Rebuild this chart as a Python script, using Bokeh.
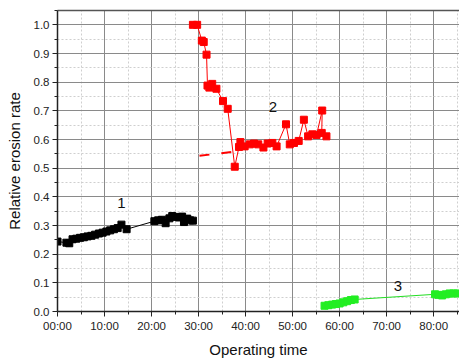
from bokeh.plotting import figure
from bokeh.models import FixedTicker, LinearAxis, Range1d, Label
from bokeh.embed import file_html
from bokeh.resources import INLINE

# ---- data (hours, relative erosion rate) ----
x1 = [0.0, 1.9, 2.5, 3.2, 4.0, 4.8, 5.6, 6.4, 7.2, 8.0, 8.8, 9.6, 10.4, 11.2, 12.0,
      12.8, 13.6, 14.7, 20.6, 21.4, 22.2, 23.0, 23.8, 24.4, 25.0, 25.8, 26.5, 26.9,
      27.6, 28.2, 28.8]
y1 = [0.244, 0.240, 0.238, 0.252, 0.254, 0.257, 0.259, 0.262, 0.264, 0.268, 0.272,
      0.275, 0.279, 0.283, 0.287, 0.291, 0.303, 0.287, 0.315, 0.318, 0.320, 0.308,
      0.325, 0.333, 0.330, 0.328, 0.331, 0.312, 0.324, 0.318, 0.317]

x2 = [28.8, 29.7, 30.7, 31.1, 31.7, 31.9, 32.3, 32.9, 33.8, 35.2, 36.2, 37.7, 38.6,
      38.9, 39.8, 40.9, 41.8, 42.7, 43.8, 44.7, 45.7, 46.6, 48.6, 49.4, 50.3, 51.3,
      52.4, 53.3, 54.2, 55.1, 56.3, 56.2, 57.2]
y2 = [1.0, 1.0, 0.945, 0.94, 0.896, 0.788, 0.781, 0.794, 0.777, 0.734, 0.707, 0.505,
      0.574, 0.591, 0.576, 0.583, 0.586, 0.583, 0.572, 0.586, 0.588, 0.576, 0.653,
      0.583, 0.588, 0.595, 0.669, 0.611, 0.618, 0.616, 0.701, 0.623, 0.611]

fit2_x = [30.2, 37.2]
fit2_y = [0.543, 0.557]

x3 = [56.8, 57.6, 58.4, 59.2, 60.0, 60.8, 61.6, 62.4, 63.2, 80.3, 81.0, 81.8, 82.6,
      83.4, 84.2, 85.0]
y3 = [0.020, 0.022, 0.024, 0.026, 0.028, 0.032, 0.036, 0.040, 0.042, 0.060, 0.058,
      0.056, 0.060, 0.063, 0.063, 0.063]

x_ticks = [0, 10, 20, 30, 40, 50, 60, 70, 80]
x_tick_labels = ["00:00", "10:00", "20:00", "30:00", "40:00", "50:00", "60:00", "70:00", "80:00"]
x_minor = [5, 15, 25, 35, 45, 55, 65, 75, 85]
y_ticks = [0.0, 0.1, 0.2, 0.3, 0.4, 0.5, 0.6, 0.7, 0.8, 0.9, 1.0]
y_minor = [0.05, 0.15, 0.25, 0.35, 0.45, 0.55, 0.65, 0.75, 0.85, 0.95, 1.05]

series_labels = ["1", "2", "3"]
label_x = [13.6, 45.8, 72.4]
label_y = [0.378, 0.713, 0.088]

FONT = "Liberation Sans"

p = figure(width=459, height=360, x_range=Range1d(0, 85.5), y_range=Range1d(0, 1.05),
           output_backend="svg", toolbar_location=None,
           min_border_left=57, min_border_right=0, min_border_top=10, min_border_bottom=48,
           x_axis_label="Operating time", y_axis_label="Relative erosion rate")
p.outline_line_color = None
p.background_fill_color = "white"

xt = FixedTicker(ticks=x_ticks, minor_ticks=x_minor)
yt = FixedTicker(ticks=y_ticks, minor_ticks=y_minor)
p.xaxis.ticker = xt
p.yaxis.ticker = yt
p.xgrid.ticker = xt
p.ygrid.ticker = yt
p.xaxis.major_label_overrides = {t: s for t, s in zip(x_ticks, x_tick_labels)}
p.yaxis.major_label_overrides = {t: "%.1f" % t for t in y_ticks}

for ax in (p.xaxis[0], p.yaxis[0]):
    ax.axis_line_color = "#222222"
    ax.axis_line_width = 1.5
    ax.major_tick_line_color = "#222222"
    ax.minor_tick_line_color = "#222222"
    ax.major_tick_out = 5
    ax.major_tick_in = 0
    ax.minor_tick_out = 3
    ax.minor_tick_in = 0
    ax.major_label_text_font = FONT
    ax.major_label_text_font_size = "11.5px"
    ax.major_label_text_color = "#222222"
    ax.axis_label_text_font = FONT
    ax.axis_label_text_font_size = "15px"
    ax.axis_label_text_font_style = "normal"
    ax.axis_label_text_color = "#111111"
    ax.major_label_standoff = 3
p.xaxis.axis_label_standoff = 6
p.yaxis.axis_label_standoff = 8

for g in (p.xgrid[0], p.ygrid[0]):
    g.grid_line_color = "#8a8a8a"
    g.grid_line_width = 1
    g.minor_grid_line_color = "#cfcfcf"
    g.minor_grid_line_dash = "2 2"
    g.minor_grid_line_width = 1

top = LinearAxis(ticker=FixedTicker(ticks=[]), major_label_text_font_size="0px",
                 axis_line_color="#555555", axis_line_width=1.5,
                 major_tick_line_color=None, minor_tick_line_color=None)
p.add_layout(top, "above")

# series 1 (black)
p.line(x1, y1, line_color="black", line_width=1)
p.scatter(x1, y1, marker="square", size=7, fill_color="black", line_color="black")

# series 2 (red)
p.line(x2, y2, line_color="red", line_width=1)
p.scatter(x2, y2, marker="square", size=7, fill_color="red", line_color="red")
p.line(fit2_x, fit2_y, line_color="red", line_width=2, line_dash="10 12")

# series 3 (green)
p.line(x3, y3, line_color="#22dd22", line_width=1)
p.scatter(x3, y3, marker="square", size=7, fill_color="#22ee22", line_color="#22ee22")

for s, lx, ly in zip(series_labels, label_x, label_y):
    p.add_layout(Label(x=lx, y=ly, text=s, text_font=FONT, text_font_size="15px",
                       text_align="center", text_baseline="middle", text_color="#111111"))

open("out.html", "w").write(file_html(p, INLINE))
